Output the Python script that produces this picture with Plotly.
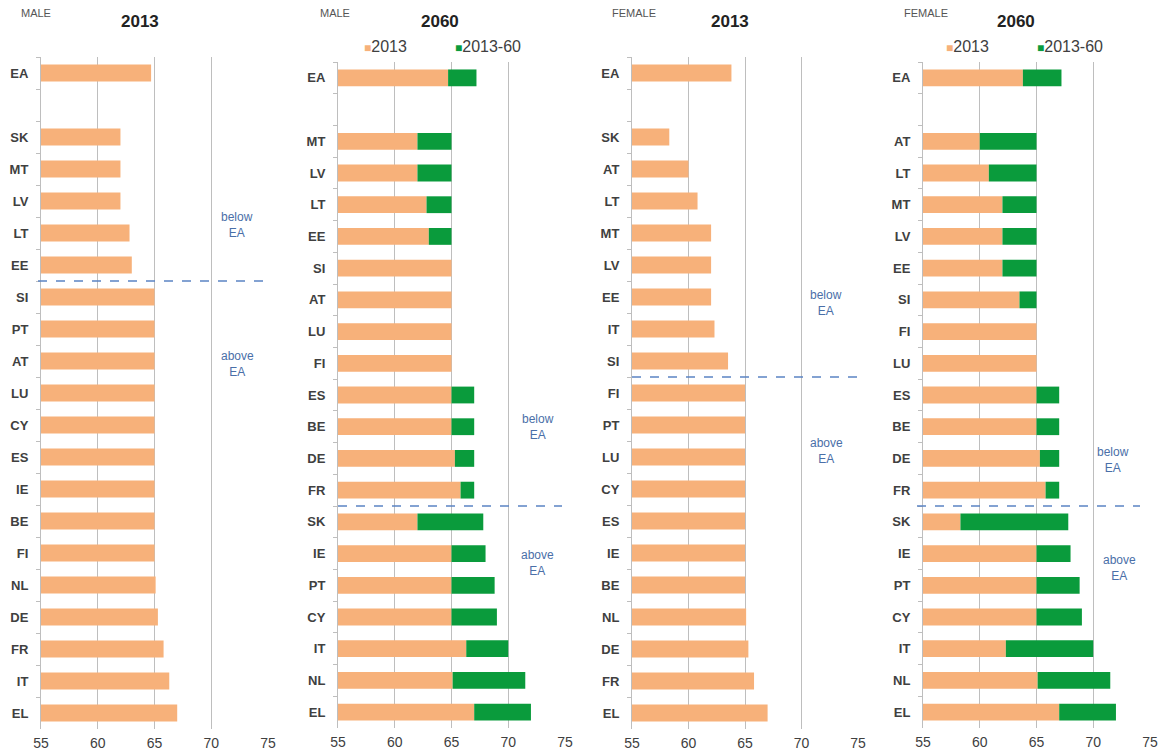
import plotly.graph_objects as go

# ---------------- data ----------------
BLANK = " "
# Panel 1: MALE 2013
male13_cats = ["EA", BLANK, "SK", "MT", "LV", "LT", "EE", "SI", "PT", "AT", "LU",
               "CY", "ES", "IE", "BE", "FI", "NL", "DE", "FR", "IT", "EL"]
male13_vals = [64.7, None, 62.0, 62.0, 62.0, 62.8, 63.0, 65.0, 65.0, 65.0, 65.0,
               65.0, 65.0, 65.0, 65.0, 65.0, 65.1, 65.3, 65.8, 66.3, 67.0]

# Panel 2: MALE 2060
male60_cats = ["EA", BLANK, "MT", "LV", "LT", "EE", "SI", "AT", "LU", "FI", "ES",
               "BE", "DE", "FR", "SK", "IE", "PT", "CY", "IT", "NL", "EL"]
male60_base = [64.7, None, 62.0, 62.0, 62.8, 63.0, 65.0, 65.0, 65.0, 65.0, 65.0,
               65.0, 65.3, 65.8, 62.0, 65.0, 65.0, 65.0, 66.3, 65.1, 67.0]
male60_vals = [67.2, None, 65.0, 65.0, 65.0, 65.0, 65.0, 65.0, 65.0, 65.0, 67.0,
               67.0, 67.0, 67.0, 67.8, 68.0, 68.8, 69.0, 70.0, 71.5, 72.0]

# Panel 3: FEMALE 2013
fem13_cats = ["EA", BLANK, "SK", "AT", "LT", "MT", "LV", "EE", "IT", "SI", "FI",
              "PT", "LU", "CY", "ES", "IE", "BE", "NL", "DE", "FR", "EL"]
fem13_vals = [63.8, None, 58.3, 60.0, 60.8, 62.0, 62.0, 62.0, 62.3, 63.5, 65.0,
              65.0, 65.0, 65.0, 65.0, 65.0, 65.0, 65.1, 65.3, 65.8, 67.0]

# Panel 4: FEMALE 2060
fem60_cats = ["EA", BLANK, "AT", "LT", "MT", "LV", "EE", "SI", "FI", "LU", "ES",
              "BE", "DE", "FR", "SK", "IE", "PT", "CY", "IT", "NL", "EL"]
fem60_base = [63.8, None, 60.0, 60.8, 62.0, 62.0, 62.0, 63.5, 65.0, 65.0, 65.0,
              65.0, 65.3, 65.8, 58.3, 65.0, 65.0, 65.0, 62.3, 65.1, 67.0]
fem60_vals = [67.2, None, 65.0, 65.0, 65.0, 65.0, 65.0, 65.0, 65.0, 65.0, 67.0,
              67.0, 67.0, 67.0, 67.8, 68.0, 68.8, 69.0, 70.0, 71.5, 72.0]

x_ticks = [55, 60, 65, 70, 75]
series_names = ["2013", "2013-60"]
panel_titles = ["2013", "2060", "2013", "2060"]
panel_sex = ["MALE", "MALE", "FEMALE", "FEMALE"]

# ---------------- style ----------------
ORANGE = "#F7B17A"
GREEN = "#0A9B3C"
GRID = "#BEBEBE"
TXT = "#404040"
NOTE = "#4A6FA8"
FONT = "Liberation Sans, Arial, sans-serif"

W, H = 1165, 754
x_px = [(41, 268), (338, 565), (632, 858), (923, 1150)]
y_px = [(57, 729), (62, 728), (57, 729), (62, 728)]


def diff(a, b):
    return [None if (p is None or q is None) else round(q - p, 2) for p, q in zip(a, b)]


def span(vals):
    return [None if v is None else round(v - 55, 2) for v in vals]


fig = go.Figure()

# panel 1
fig.add_trace(go.Bar(y=male13_cats, x=span(male13_vals), base=55, orientation="h",
                     marker_color=ORANGE, name=series_names[0], xaxis="x", yaxis="y"))
# panel 2
fig.add_trace(go.Bar(y=male60_cats, x=span(male60_base), base=55, orientation="h",
                     marker_color=ORANGE, name=series_names[0], xaxis="x2", yaxis="y2"))
fig.add_trace(go.Bar(y=male60_cats, x=diff(male60_base, male60_vals), base=male60_base,
                     orientation="h", marker_color=GREEN, name=series_names[1],
                     xaxis="x2", yaxis="y2"))
# panel 3
fig.add_trace(go.Bar(y=fem13_cats, x=span(fem13_vals), base=55, orientation="h",
                     marker_color=ORANGE, name=series_names[0], xaxis="x3", yaxis="y3"))
# panel 4
fig.add_trace(go.Bar(y=fem60_cats, x=span(fem60_base), base=55, orientation="h",
                     marker_color=ORANGE, name=series_names[0], xaxis="x4", yaxis="y4"))
fig.add_trace(go.Bar(y=fem60_cats, x=diff(fem60_base, fem60_vals), base=fem60_base,
                     orientation="h", marker_color=GREEN, name=series_names[1],
                     xaxis="x4", yaxis="y4"))

fig.update_traces(marker_line_width=0, hoverinfo="x+y", showlegend=False)

layout = dict(
    width=W, height=H, margin=dict(l=0, r=0, t=0, b=0, autoexpand=False),
    paper_bgcolor="white", plot_bgcolor="white",
    barmode="overlay", bargap=0.47, showlegend=False,
    font=dict(family=FONT, color=TXT),
)
cats_list = [male13_cats, male60_cats, fem13_cats, fem60_cats]
for i in range(4):
    sx = "" if i == 0 else str(i + 1)
    x0, x1 = x_px[i]
    yt, yb = y_px[i]
    layout["xaxis" + sx] = dict(
        domain=[x0 / W, x1 / W], range=[55, 75], tickvals=x_ticks,
        showgrid=True, gridcolor=GRID, gridwidth=1, zeroline=False,
        showline=False, ticks="", tickfont=dict(size=14, color=TXT),
        anchor="y" + sx, fixedrange=True, automargin=False, ticklabelstandoff=4,
    )
    layout["yaxis" + sx] = dict(
        domain=[1 - yb / H, 1 - yt / H], type="category",
        categoryorder="array", categoryarray=cats_list[i], autorange="reversed",
        showline=True, linecolor=GRID, linewidth=1, showgrid=False,
        ticks="outside", tickson="boundaries", ticklen=4, tickcolor=GRID,
        tickfont=dict(size=13, color=TXT, family="Liberation Sans, Arial", weight="bold"),
        anchor="x" + sx, fixedrange=True, ticklabelstandoff=9, automargin=False,
    )
fig.update_layout(**layout)

# titles
title_x = [140, 440, 730, 1016]
sex_x = [19, 318, 610, 902]
anns = []
for i in range(4):
    anns.append(dict(text="<b>" + panel_titles[i] + "</b>", x=title_x[i] / W, y=1 - 21 / H,
                     xref="paper", yref="paper", xanchor="center", yanchor="middle",
                     showarrow=False, font=dict(size=17, color="#222222")))
    anns.append(dict(text=panel_sex[i], x=sex_x[i] / W, y=1 - 13 / H, xanchor="left",
                     yanchor="middle", xref="paper", yref="paper", showarrow=False,
                     font=dict(size=11, color="#555555")))

# legend keys for the 2060 panels (square key + series name)
legend_x = [(362, 453), (944, 1035)]
key_colors = [ORANGE, GREEN]
for lx in legend_x:
    for k in range(2):
        anns.append(dict(
            text="<span style='color:%s;font-size:12px'>■</span>%s" % (key_colors[k], series_names[k]),
            x=lx[k] / W, y=1 - 47 / H, xref="paper", yref="paper", xanchor="left",
            yanchor="middle", showarrow=False, font=dict(size=16, color=TXT)))

# below / above EA notes: (panel index, x value, y category position, text)
notes = [
    (0, 72.3, 4.75, "below<br>EA"), (0, 72.3, 9.1, "above<br>EA"),
    (1, 72.6, 11.0, "below<br>EA"), (1, 72.6, 15.3, "above<br>EA"),
    (2, 72.2, 7.2, "below<br>EA"), (2, 72.2, 11.8, "above<br>EA"),
    (3, 71.7, 12.05, "below<br>EA"), (3, 72.3, 15.45, "above<br>EA"),
]
for p, xv, yv, t in notes:
    sx = "" if p == 0 else str(p + 1)
    anns.append(dict(text=t, x=xv, y=yv, xref="x" + sx, yref="y" + sx, showarrow=False,
                     xanchor="center", yanchor="middle",
                     font=dict(size=12, color=NOTE)))
fig.update_layout(annotations=anns)

# dashed separators: (panel, boundary position, x start px, x end px)
seps = [(0, 6.5, 38, 267), (1, 13.5, 338, 562), (2, 9.5, 632, 858), (3, 13.5, 917, 1140)]
for p, yv, xa, xb in seps:
    sx = "" if p == 0 else str(p + 1)
    fig.add_shape(type="line", xref="paper", yref="y" + sx, x0=xa / W, x1=xb / W, y0=yv, y1=yv,
                  line=dict(color="#5B84C4", width=1.3, dash="dash"))

fig.write_html("out.html", config={"displayModeBar": False},
               post_script="document.body.style.margin='0';")
